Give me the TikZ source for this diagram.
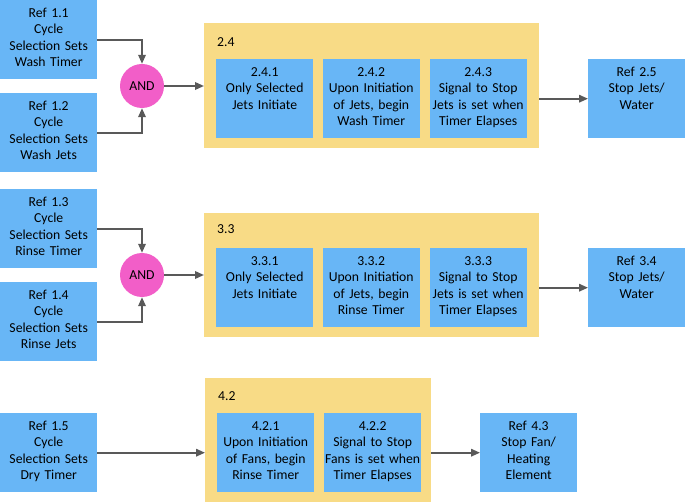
\documentclass[tikz,border=0pt]{standalone}
\usepackage{fontspec}
\setmainfont{Carlito}
\usetikzlibrary{arrows.meta}
\definecolor{bblue}{HTML}{68B6F6}
\definecolor{cyel}{HTML}{F8DB86}
\definecolor{cpink}{HTML}{F25EC8}
\definecolor{agray}{HTML}{595959}
\begin{document}
\begin{tikzpicture}[x=1pt,y=-1pt,
  every node/.style={font=\fontsize{13.7}{16.4}\selectfont},
  box/.style={fill=bblue, draw=none, inner xsep=0pt, inner ysep=0pt, align=center,
    minimum width=97pt, minimum height=79pt, text width=95pt,
    text height=17.1pt, text depth=61.9pt, anchor=north west},
  cont/.style={fill=cyel, draw=none, inner sep=0pt, anchor=north west},
  clabel/.style={inner sep=0pt, anchor=base west},
  andnode/.style={circle, fill=cpink, draw=none, minimum size=44pt, inner sep=0pt},
  arr/.style={draw=agray, line width=1.8pt, -{Triangle[length=9pt,width=7.5pt]}}
]
\useasboundingbox (0,0) rectangle (685,502);

% ---------- row 1 ----------
\node[box] (r11) at (0,0) {Ref 1.1\\Cycle\\Selection Sets\\Wash Timer};
\node[box] (r12) at (0,93) {Ref 1.2\\Cycle\\Selection Sets\\Wash Jets};
\node[andnode] (and1) at (142,86) {AND};
\node[cont, minimum width=335pt, minimum height=125pt] (c24) at (204,23) {};
\node[clabel] (l24) at (217,47) {2.4};
\node[box] (s241) at (216,59) {2.4.1\\Only Selected\\Jets Initiate};
\node[box] (s242) at (322.5,59) {2.4.2\\Upon Initiation\\of Jets, begin\\Wash Timer};
\node[box] (s243) at (429.5,59) {2.4.3\\Signal to Stop\\Jets is set when\\Timer Elapses};
\node[box] (r25) at (588,59) {Ref 2.5\\Stop Jets/\\Water};

\draw[arr] (r11.east) -| (and1.north);
\draw[arr] (r12.east) -| (and1.south);
\draw[arr] (and1.east) -- (c24.west |- and1.east);
\draw[arr] (c24.east |- r25.west) -- (r25.west);

% ---------- row 2 ----------
\node[box] (r13) at (0,189) {Ref 1.3\\Cycle\\Selection Sets\\Rinse Timer};
\node[box] (r14) at (0,282) {Ref 1.4\\Cycle\\Selection Sets\\Rinse Jets};
\node[andnode] (and2) at (142,275) {AND};
\node[cont, minimum width=335pt, minimum height=124pt] (c33) at (204,213) {};
\node[clabel] (l33) at (217,234) {3.3};
\node[box] (s331) at (216,248) {3.3.1\\Only Selected\\Jets Initiate};
\node[box] (s332) at (322.5,248) {3.3.2\\Upon Initiation\\of Jets, begin\\Rinse Timer};
\node[box] (s333) at (429.5,248) {3.3.3\\Signal to Stop\\Jets is set when\\Timer Elapses};
\node[box] (r34) at (588,248) {Ref 3.4\\Stop Jets/\\Water};

\draw[arr] (r13.east) -| (and2.north);
\draw[arr] (r14.east) -| (and2.south);
\draw[arr] (and2.east) -- (c33.west |- and2.east);
\draw[arr] (c33.east |- r34.west) -- (r34.west);

% ---------- row 3 ----------
\node[box] (r15) at (0,413) {Ref 1.5\\Cycle\\Selection Sets\\Dry Timer};
\node[cont, minimum width=226pt, minimum height=124pt] (c42) at (205,378) {};
\node[clabel] (l42) at (218,400) {4.2};
\node[box] (s421) at (217,413) {4.2.1\\Upon Initiation\\of Fans, begin\\Rinse Timer};
\node[box] (s422) at (324,413) {4.2.2\\Signal to Stop\\Fans is set when\\Timer Elapses};
\node[box] (r43) at (480,413) {Ref 4.3\\Stop Fan/\\Heating\\Element};

\draw[arr] (r15.east) -- (c42.west |- r15.east);
\draw[arr] (c42.east |- r43.west) -- (r43.west);
\end{tikzpicture}
\end{document}
